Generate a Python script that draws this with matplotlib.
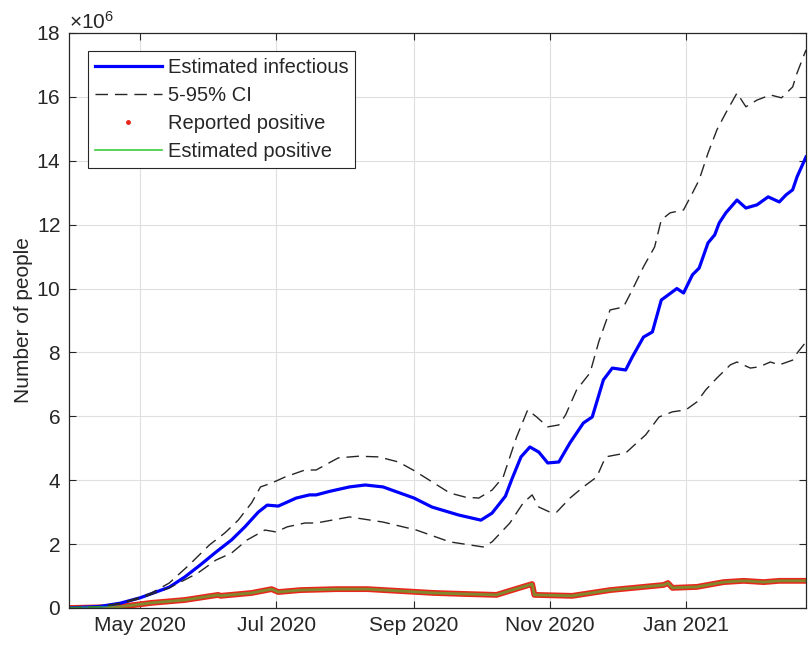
import numpy as np
from matplotlib import pyplot as plt
from matplotlib import dates as mdates
from matplotlib.ticker import ScalarFormatter, MultipleLocator

plt.rcParams["font.family"] = ["Liberation Sans", "DejaVu Sans"]
plt.rcParams["mathtext.fontset"] = "custom"
plt.rcParams["mathtext.rm"] = "Liberation Sans"

# day 0 of every series below
START = np.datetime64("2020-03-30")
LAST_DAY = 331

# estimated infectious (millions)
inf_day = [0, 14, 23, 32, 45, 52, 59, 66, 73, 79, 85, 89, 94, 102, 108, 111, 117, 126, 133, 141,
           155, 163, 175, 185, 190, 196, 199, 203, 207, 211, 215, 220, 225, 231, 235, 240, 244,
           250, 253, 258, 262, 266, 273, 276, 280, 283, 287, 290, 292, 295, 300, 304, 309, 314,
           319, 322, 325, 327, 331]
inf_val = [0.0, 0.05, 0.15, 0.32, 0.65, 0.97, 1.35, 1.75, 2.13, 2.54, 3.0, 3.22, 3.19, 3.44, 3.54,
           3.54, 3.65, 3.79, 3.85, 3.79, 3.44, 3.16, 2.91, 2.75, 2.97, 3.5, 4.05, 4.73, 5.04, 4.88,
           4.54, 4.57, 5.17, 5.79, 5.98, 7.14, 7.51, 7.45, 7.86, 8.48, 8.64, 9.64, 10.0, 9.86,
           10.43, 10.64, 11.43, 11.68, 12.05, 12.37, 12.77, 12.52, 12.62, 12.87, 12.71, 12.93,
           13.09, 13.5, 14.12]

# 95% bound
hi_day = [0, 14, 23, 32, 37, 45, 54, 63, 70, 76, 82, 86, 91, 97, 106, 111, 117, 121, 130, 139,
          148, 155, 163, 171, 178, 184, 190, 195, 201, 206, 210, 215, 220, 223, 228, 234, 238,
          243, 249, 253, 258, 263, 266, 270, 276, 280, 283, 287, 291, 295, 300, 304, 309, 315,
          320, 325, 327, 331]
hi_val = [0.0, 0.05, 0.15, 0.34, 0.47, 0.78, 1.35, 1.97, 2.35, 2.75, 3.29, 3.79, 3.91, 4.1, 4.32,
          4.32, 4.55, 4.7, 4.75, 4.73, 4.57, 4.3, 3.95, 3.6, 3.47, 3.44, 3.69, 4.1, 5.35, 6.2,
          5.98, 5.67, 5.73, 6.04, 6.83, 7.36, 8.35, 9.33, 9.42, 9.96, 10.68, 11.3, 12.15, 12.37,
          12.46, 12.99, 13.4, 14.24, 14.97, 15.5, 16.12, 15.69, 15.9, 16.06, 15.97, 16.31,
          16.75, 17.47]

# 5% bound
lo_day = [0, 14, 23, 32, 45, 52, 58, 66, 73, 80, 88, 93, 98, 106, 111, 126, 141, 156, 171, 186,
          190, 198, 204, 208, 211, 216, 219, 225, 231, 237, 241, 250, 255, 259, 265, 271, 277,
          282, 286, 291, 297, 300, 306, 310, 315, 319, 325, 327, 331]
lo_val = [0.0, 0.04, 0.13, 0.3, 0.63, 0.88, 1.1, 1.5, 1.72, 2.13, 2.44, 2.38, 2.54, 2.66, 2.66,
          2.85, 2.69, 2.44, 2.07, 1.91, 2.07, 2.66, 3.29, 3.54, 3.16, 3.0, 3.0, 3.44, 3.79, 4.1,
          4.73, 4.85, 5.17, 5.42, 5.98, 6.14, 6.2, 6.45, 6.83, 7.2, 7.61, 7.7, 7.51, 7.55, 7.7,
          7.61, 7.76, 7.98, 8.33]

# reported positive (the estimated positive line sits on top of it)
pos_day = [0, 22, 37, 52, 67, 68, 82, 91, 94, 104, 120, 134, 149, 164, 177, 192, 199, 208, 209,
           226, 243, 267, 269, 271, 282, 294, 303, 312, 319, 331]
pos_val = [0.0, 0.03, 0.16, 0.25, 0.41, 0.38, 0.47, 0.59, 0.5, 0.56, 0.59, 0.59, 0.53, 0.47,
           0.44, 0.41, 0.56, 0.75, 0.41, 0.38, 0.56, 0.72, 0.78, 0.63, 0.66, 0.81, 0.85, 0.81,
           0.85, 0.85]
est_pos_val = pos_val

xtick_months = ["2020-05-01", "2020-07-01", "2020-09-01", "2020-11-01", "2021-01-01"]

TXT = "#262626"
RED = "#e8261a"
GREEN = "#3ccc3c"


def to_dates(days):
    return START + np.array(days).astype("timedelta64[D]")


def millions(vals):
    return np.array(vals) * 1e6


fig = plt.figure(figsize=(8.09, 6.49), dpi=100)
ax = fig.add_axes([0.0853, 0.0632, 0.911, 0.886])

ax.plot(to_dates(pos_day), millions(pos_val), color=RED, lw=4.2, solid_capstyle="round")
ax.plot(to_dates(inf_day), millions(inf_val), color="#0000ff", lw=2.3, label="Estimated infectious")
ax.plot(to_dates(hi_day), millions(hi_val), color="#262626", lw=1.0, ls=(0, (9, 5)), label="5-95% CI")
ax.plot(to_dates(lo_day), millions(lo_val), color="#262626", lw=1.0, ls=(0, (9, 5)))
ax.plot([], [], ls="none", marker=".", color=RED, markersize=5, label="Reported positive")
ax.plot(to_dates(pos_day), millions(est_pos_val), color=GREEN, lw=2.0, alpha=0.6,
        label="Estimated positive")

ax.set_xlim(START, START + np.timedelta64(LAST_DAY, "D"))
ax.set_ylim(0, 18e6)
ax.set_xticks([np.datetime64(m) for m in xtick_months])
ax.xaxis.set_major_formatter(mdates.DateFormatter("%b %Y"))
ax.yaxis.set_major_locator(MultipleLocator(2e6))
fmt = ScalarFormatter(useMathText=True)
fmt.set_powerlimits((6, 6))
ax.yaxis.set_major_formatter(fmt)
ax.yaxis.get_offset_text().set_fontsize(15)
ax.yaxis.get_offset_text().set_color(TXT)

ax.set_ylabel("Number of people", fontsize=15, color=TXT, labelpad=2)
ax.tick_params(direction="in", length=5, width=0.8, colors=TXT, labelsize=15,
               top=True, right=True, pad=6)
ax.grid(True, color="#dfdfdf", lw=0.8)
ax.set_axisbelow(True)
for sp in ax.spines.values():
    sp.set_color(TXT)
    sp.set_linewidth(0.9)

leg = ax.legend(loc="upper left", bbox_to_anchor=(0.0258, 0.9687), borderaxespad=0,
                fontsize=14.5, handlelength=3.3, handletextpad=0.3, labelspacing=0.45,
                borderpad=0.35, fancybox=False, framealpha=1, edgecolor=TXT)
leg.get_frame().set_linewidth(0.8)
for t in leg.get_texts():
    t.set_color(TXT)
# thin, solid green in the key like the original
green_key = leg.legend_handles[-1]
green_key.set_linewidth(1.2)
green_key.set_alpha(1)

fig.savefig("out.png", dpi=100)
